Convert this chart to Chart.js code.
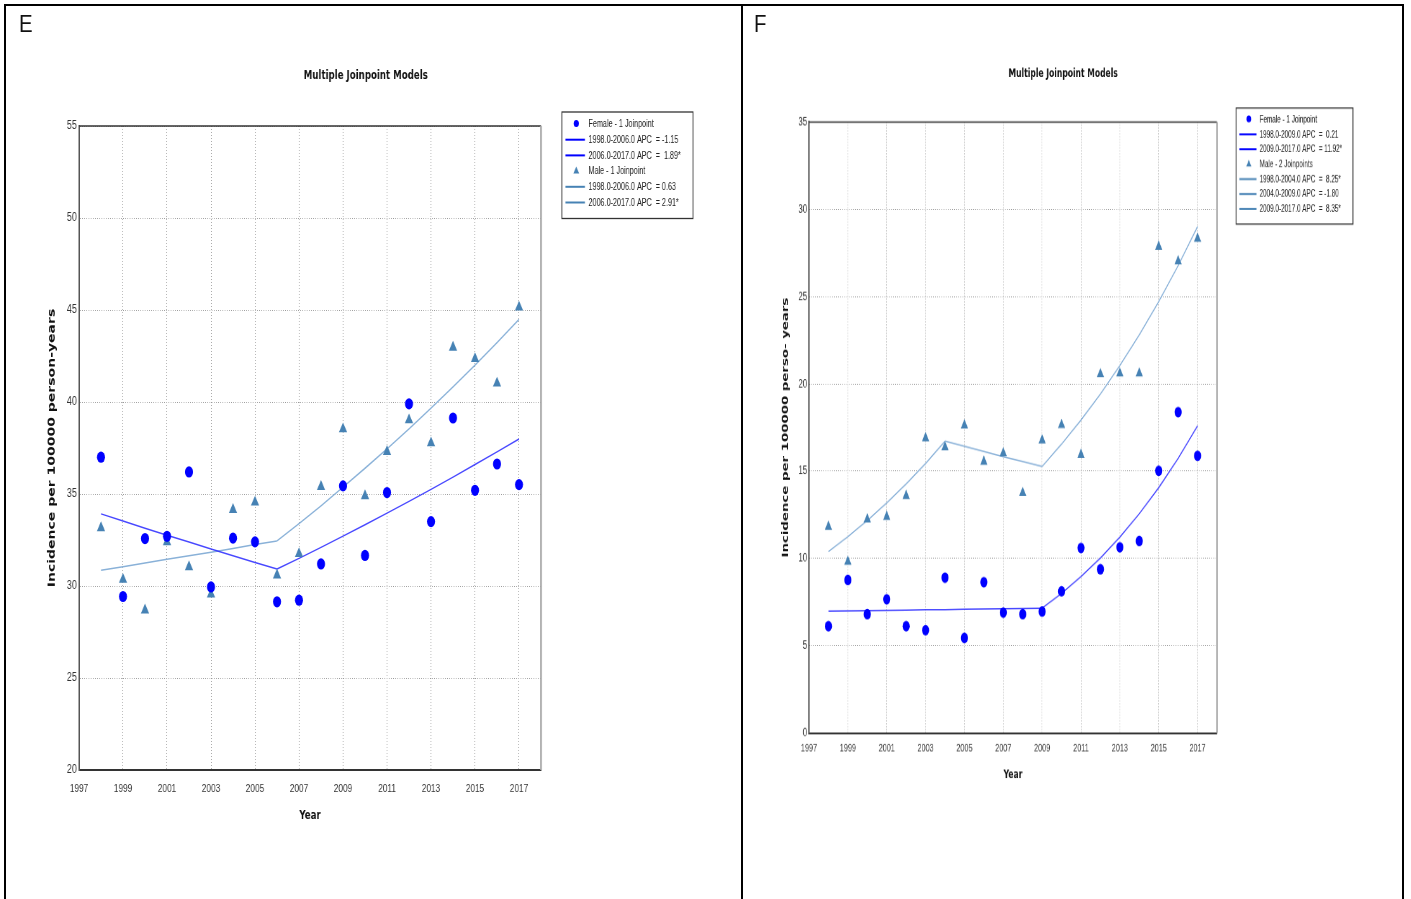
<!DOCTYPE html>
<html>
<head>
<meta charset="utf-8">
<script src="https://cdn.jsdelivr.net/npm/chart.js@4.4.1/dist/chart.umd.min.js"></script>
<style>
  body { margin: 0; background: #fff; width: 1411px; height: 899px; overflow: hidden; position: relative; }
  .frame { position: absolute; left: 4px; top: 4px; width: 1396px; height: 900px; border: 2px solid #000; border-bottom: none; z-index: 2; }
  .divider { position: absolute; left: 741px; top: 4px; width: 2px; height: 900px; background: #000; z-index: 2; }
  .tag { position: absolute; top: 11px; font: 24px "Liberation Sans", sans-serif; line-height: 25px; color: #111; z-index: 2; transform: scaleX(0.85); transform-origin: 0 0; }
  canvas { position: absolute; top: 0; transform-origin: 0 0; }
  #chartE { left: 0; transform: scaleX(0.72); }
  #chartF { left: 743px; transform: scale(0.634, 0.95); }
</style>
</head>
<body>
<div class="frame"></div>
<div class="divider"></div>
<div class="tag" style="left:19px">E</div>
<div class="tag" style="left:754px">F</div>
<canvas id="chartE" width="1029" height="899"></canvas>
<canvas id="chartF" width="1053" height="946"></canvas>
<script>
// calendar years with observed rates, and labelled x ticks
const years = [1998, 1999, 2000, 2001, 2002, 2003, 2004, 2005, 2006, 2007,
               2008, 2009, 2010, 2011, 2012, 2013, 2014, 2015, 2016, 2017];
const yearTicks = [1997, 1999, 2001, 2003, 2005, 2007, 2009, 2011, 2013, 2015, 2017];

// panel E: observed incidence and joinpoint fits
const femaleE = [37.0, 29.43, 32.58, 32.7, 36.2, 29.95, 32.6, 32.4, 29.14, 29.23,
                 31.2, 35.44, 31.66, 35.08, 39.9, 33.5, 39.13, 35.2, 36.63, 35.51];
const maleE = [33.16, 30.35, 28.69, 32.4, 31.04, 29.56, 34.15, 34.55, 30.59, 31.75,
               35.4, 38.53, 34.9, 37.3, 39.02, 37.77, 42.97, 42.35, 41.02, 45.15];
const femaleFitE = [33.92, 33.53, 33.14, 32.76, 32.39, 32.01, 31.64, 31.28, 30.92, 31.50,
                    32.10, 32.71, 33.33, 33.96, 34.60, 35.25, 35.92, 36.60, 37.29, 37.99];
const maleFitE = [30.86, 31.05, 31.25, 31.45, 31.65, 31.84, 32.04, 32.25, 32.45, 33.39,
                  34.36, 35.37, 36.40, 37.45, 38.54, 39.67, 40.82, 42.01, 43.23, 44.49];
const femaleSegE = [[1998, 2006], [2006, 2017]];
const maleSegE = [[1998, 2006], [2006, 2017]];
const femaleApcE = ['1998.0-2006.0 APC  = -1.15', '2006.0-2017.0 APC  =  1.89*'];
const maleApcE = ['1998.0-2006.0 APC  = 0.63', '2006.0-2017.0 APC  = 2.91*'];

// panel F
const femaleF = [6.12, 8.77, 6.81, 7.66, 6.12, 5.89, 8.90, 5.45, 8.64, 6.90,
                 6.81, 6.96, 8.12, 10.60, 9.38, 10.64, 11.00, 15.02, 18.38, 15.88];
const maleF = [11.82, 9.82, 12.24, 12.39, 13.59, 16.89, 16.37, 17.63, 15.55, 16.03,
               13.76, 16.77, 17.65, 15.94, 20.56, 20.60, 20.60, 27.86, 27.02, 28.32];
const femaleFitF = [6.98, 7.00, 7.01, 7.03, 7.04, 7.06, 7.07, 7.09, 7.10, 7.12,
                    7.13, 7.15, 8.00, 8.96, 10.02, 11.22, 12.56, 14.05, 15.73, 17.60];
const maleFitF = [10.39, 11.25, 12.17, 13.18, 14.27, 15.44, 16.72, 16.42, 16.12, 15.83,
                  15.55, 15.27, 16.55, 17.93, 19.42, 21.05, 22.80, 24.71, 26.77, 29.01];
const femaleSegF = [[1998, 2009], [2009, 2017]];
const maleSegF = [[1998, 2004], [2004, 2009], [2009, 2017]];
const femaleApcF = ['1998.0-2009.0 APC  =  0.21', '2009.0-2017.0 APC  = 11.92*'];
const maleApcF = ['1998.0-2004.0 APC  =  8.25*', '2004.0-2009.0 APC  = -1.80', '2009.0-2017.0 APC  =  8.35*'];

const FEMALE = '#0000ff';
const MALE = '#4682b4';

function pts(vals) {
  return years.map((y, i) => ({ x: y, y: vals[i] }));
}

function segment(fit, from, to) {
  return years.map((y, i) => ({ x: y, y: fit[i] })).filter(p => p.x >= from && p.x <= to);
}

function groupSets(name, vals, fit, segs, apcs, color, lineColor, style) {
  const out = [{
    label: name, data: pts(vals), showLine: false, order: 0,
    pointStyle: style, pointRadius: style === 'triangle' ? 6.6 : 5.6, pointHoverRadius: 5,
    backgroundColor: color, borderColor: color, borderWidth: 0,
    legendKind: 'point', legendColor: color
  }];
  segs.forEach((s, k) => {
    out.push({
      label: apcs[k], data: segment(fit, s[0], s[1]), showLine: true, order: 1,
      pointRadius: 0, borderColor: lineColor, borderWidth: 1.5, tension: 0,
      legendKind: 'line', legendColor: color
    });
  });
  return out;
}

// plot frame, heading and boxed legend
const panelDecor = {
  id: 'panelDecor',
  afterDraw(chart, args, o) {
    const { ctx, chartArea: a } = chart;
    ctx.save();
    ctx.strokeStyle = '#333';
    ctx.lineWidth = 1.5;
    ctx.beginPath(); ctx.moveTo(a.left, a.top); ctx.lineTo(a.right, a.top); ctx.stroke();
    ctx.strokeStyle = '#a8a8a8';
    ctx.lineWidth = 2.5;
    ctx.beginPath(); ctx.moveTo(a.right, a.top); ctx.lineTo(a.right, a.bottom); ctx.stroke();

    ctx.fillStyle = '#111';
    ctx.font = 'bold 12px "DejaVu Sans"';
    ctx.textAlign = 'center';
    ctx.textBaseline = 'middle';
    ctx.fillText(o.heading, o.headingX, o.headingY);

    const items = chart.data.datasets.filter(d => d.legendKind);
    ctx.font = '10px "Liberation Sans"';
    const textW = Math.max(...items.map(d => ctx.measureText(d.label).width));
    const row = 15.7;
    const right = o.legendRight, top = o.legendTop;
    const left = right - textW - 54;
    const bottom = top + 12 + (items.length - 1) * row + 16;
    ctx.fillStyle = '#fff';
    ctx.fillRect(left, top, right - left, bottom - top);
    ctx.strokeStyle = '#333';
    ctx.lineWidth = 1.3;
    ctx.strokeRect(left, top, right - left, bottom - top);

    items.forEach((d, i) => {
      const y = top + 12 + i * row;
      if (d.legendKind === 'point') {
        ctx.fillStyle = d.legendColor;
        ctx.beginPath();
        if (d.pointStyle === 'triangle') {
          ctx.moveTo(left + 20, y - 4.5);
          ctx.lineTo(left + 24, y + 2.5);
          ctx.lineTo(left + 16, y + 2.5);
          ctx.closePath();
        } else {
          ctx.arc(left + 20, y - 0.5, 3.6, 0, Math.PI * 2);
        }
        ctx.fill();
      } else {
        ctx.strokeStyle = d.legendColor;
        ctx.lineWidth = 2;
        ctx.beginPath(); ctx.moveTo(left + 5, y); ctx.lineTo(left + 32, y); ctx.stroke();
      }
      ctx.fillStyle = '#222';
      ctx.textAlign = 'left';
      ctx.textBaseline = 'middle';
      ctx.fillText(d.label, left + 37, y + 0.5);
    });
    ctx.restore();
  }
};

function buildChart(id, o) {
  const datasets = [
    ...groupSets(o.femaleName, o.female, o.femaleFit, o.femaleSeg, o.femaleApc, FEMALE, 'rgba(40,40,255,0.85)', 'circle'),
    ...groupSets(o.maleName, o.male, o.maleFit, o.maleSeg, o.maleApc, MALE, '#89b1d8', 'triangle')
  ];
  return new Chart(document.getElementById(id), {
    type: 'scatter',
    data: { datasets },
    plugins: [panelDecor],
    options: {
      responsive: false,
      animation: false,
      devicePixelRatio: 1,
      layout: { padding: o.padding },
      plugins: {
        legend: { display: false },
        tooltip: { enabled: false },
        panelDecor: o.decor
      },
      scales: {
        x: {
          type: 'linear', min: 1997, max: 2018,
          afterBuildTicks: s => { s.ticks = yearTicks.map(v => ({ value: v })); },
          afterFit: s => { s.height = o.xAxisHeight; },
          grid: { color: '#999', lineWidth: 1, drawTicks: false },
          border: { color: '#333', width: 2, dash: [1, 2] },
          ticks: {
            padding: o.xTickPad, maxRotation: 0, autoSkip: false,
            color: '#333', font: { family: '"Liberation Sans", "DejaVu Sans Condensed", sans-serif', size: 11.5 },
            callback: v => String(v)
          },
          title: {
            display: true, text: 'Year', color: '#111', padding: 0,
            font: { family: '"DejaVu Sans"', size: 12, weight: 'bold' }
          }
        },
        y: {
          min: o.yMin, max: o.yMax,
          afterFit: s => { s.width = o.yAxisWidth; },
          grid: { color: '#999', lineWidth: 1, drawTicks: false },
          border: { color: '#555', width: 2, dash: [1, 2] },
          ticks: {
            stepSize: 5, padding: 3, color: '#333',
            font: { family: '"Liberation Sans", sans-serif', size: 12.5 }
          },
          title: {
            display: true, text: o.yTitle, color: '#111', padding: 0,
            font: { family: '"DejaVu Sans"', size: 14, weight: 'bold' }
          }
        }
      }
    }
  });
}

buildChart('chartE', {
  female: femaleE, male: maleE, femaleFit: femaleFitE, maleFit: maleFitE,
  femaleSeg: femaleSegE, maleSeg: maleSegE, femaleApc: femaleApcE, maleApc: maleApcE,
  femaleName: 'Female - 1 Joinpoint', maleName: 'Male - 1 Joinpoint',
  yMin: 20, yMax: 55, yTitle: 'Incidence per 100000 person-years',
  padding: { left: 63.6, right: 277.6, top: 126, bottom: 75.8 },
  yAxisWidth: 46.1, xAxisHeight: 53.2, xTickPad: 11.5,
  decor: { heading: 'Multiple Joinpoint Models', headingX: 508, headingY: 76, legendRight: 962.5, legendTop: 112 }
});

buildChart('chartF', {
  female: femaleF, male: maleF, femaleFit: femaleFitF, maleFit: maleFitF,
  femaleSeg: femaleSegF, maleSeg: maleSegF, femaleApc: femaleApcF, maleApc: maleApcF,
  femaleName: 'Female - 1 Joinpoint', maleName: 'Male - 2 Joinpoints',
  yMin: 0, yMax: 35, yTitle: 'Incidence per 100000 perso- years',
  padding: { left: 59.4, right: 305.4, top: 128.4, bottom: 123 },
  yAxisWidth: 44.7, xAxisHeight: 51.4, xTickPad: 9.3,
  decor: { heading: 'Multiple Joinpoint Models', headingX: 505, headingY: 78, legendRight: 962, legendTop: 113.7 }
});
</script>
</body>
</html>
